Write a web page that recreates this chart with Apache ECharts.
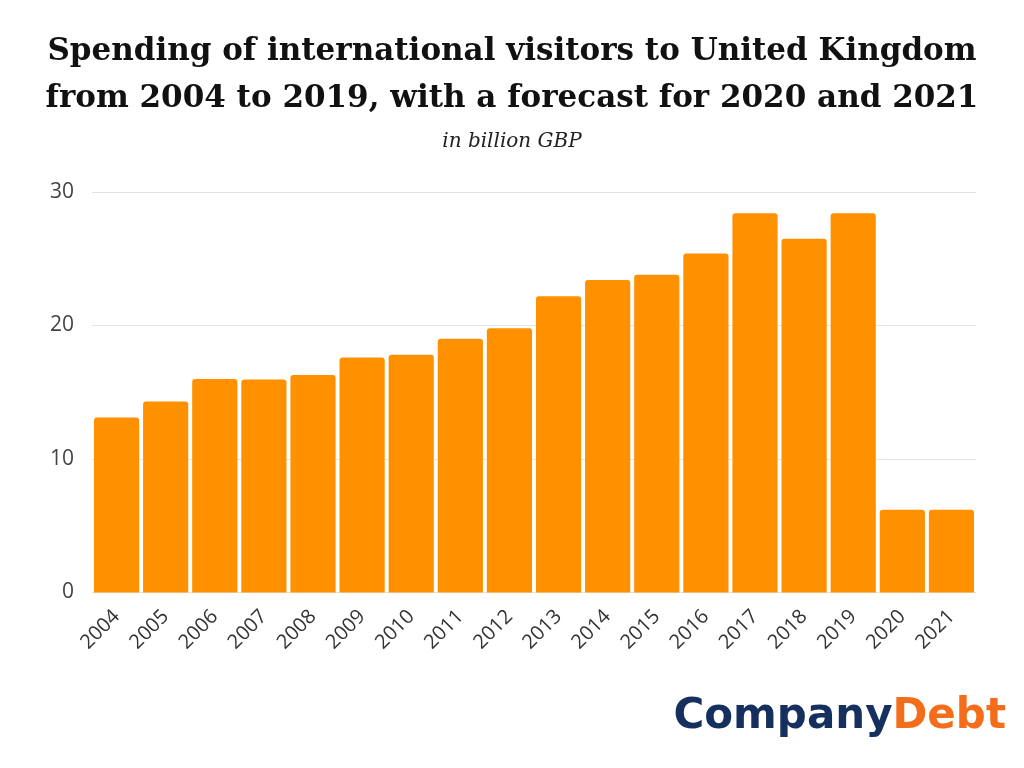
<!DOCTYPE html>
<html>
<head>
<meta charset="utf-8">
<script src="https://cdn.jsdelivr.net/npm/echarts@6/dist/echarts.min.js"></script>
<style>
html,body{margin:0;padding:0;background:#fff;}
#chart{width:1024px;height:768px;}
</style>
</head>
<body>
<div id="chart"></div>
<script>
const categories = ['2004','2005','2006','2007','2008','2009','2010','2011','2012','2013','2014','2015','2016','2017','2018','2019','2020','2021'];
const spending = [13.1, 14.3, 16.0, 15.95, 16.3, 17.6, 17.8, 19.0, 19.8, 22.2, 23.4, 23.8, 25.4, 28.4, 26.5, 28.4, 6.2, 6.2];
const titleLines = ['Spending of international visitors to United Kingdom', 'from 2004 to 2019, with a forecast for 2020 and 2021'];
const subtitle = 'in billion GBP';
const yTicks = [0, 10, 20, 30];

const chart = echarts.init(document.getElementById('chart'));
chart.setOption({
  backgroundColor: '#ffffff',
  animation: false,
  title: {
    text: titleLines.join('\n'),
    subtext: subtitle,
    left: 'center',
    top: 23,
    itemGap: 10,
    textStyle: {
      fontFamily: 'DejaVu Serif',
      fontWeight: 'bold',
      fontSize: 31,
      lineHeight: 47,
      color: '#111111'
    },
    subtextStyle: {
      fontFamily: 'DejaVu Serif',
      fontStyle: 'italic',
      fontSize: 20,
      color: '#222222'
    }
  },
  grid: { left: 92, right: 48, top: 192, bottom: 175.5, containLabel: false },
  xAxis: {
    type: 'category',
    data: categories,
    axisLine: { show: false },
    axisTick: { show: false },
    axisLabel: {
      rotate: 45,
      margin: 21,
      fontFamily: 'Open Sans',
      fontSize: 20,
      color: '#333333'
    }
  },
  yAxis: {
    type: 'value',
    min: yTicks[0],
    max: yTicks[yTicks.length - 1],
    interval: 10,
    axisLine: { show: false },
    axisTick: { show: false },
    splitLine: { lineStyle: { color: '#e3e3e3', width: 1 } },
    axisLabel: {
      margin: 18,
      fontFamily: 'Open Sans',
      fontSize: 21,
      color: '#444444'
    }
  },
  series: [{
    type: 'bar',
    data: spending,
    barCategoryGap: '8%',
    itemStyle: { color: '#ff9100', borderRadius: [3, 3, 0, 0] }
  }],
  graphic: [{
    type: 'text',
    right: 18,
    top: 696,
    style: {
      text: '{a|Company}{b|Debt}',
      rich: {
        a: { fontFamily: 'DejaVu Sans', fontWeight: 'bold', fontSize: 42, fill: '#15305f' },
        b: { fontFamily: 'DejaVu Sans', fontWeight: 'bold', fontSize: 42, fill: '#f46d1b' }
      }
    }
  }]
});
</script>
</body>
</html>
